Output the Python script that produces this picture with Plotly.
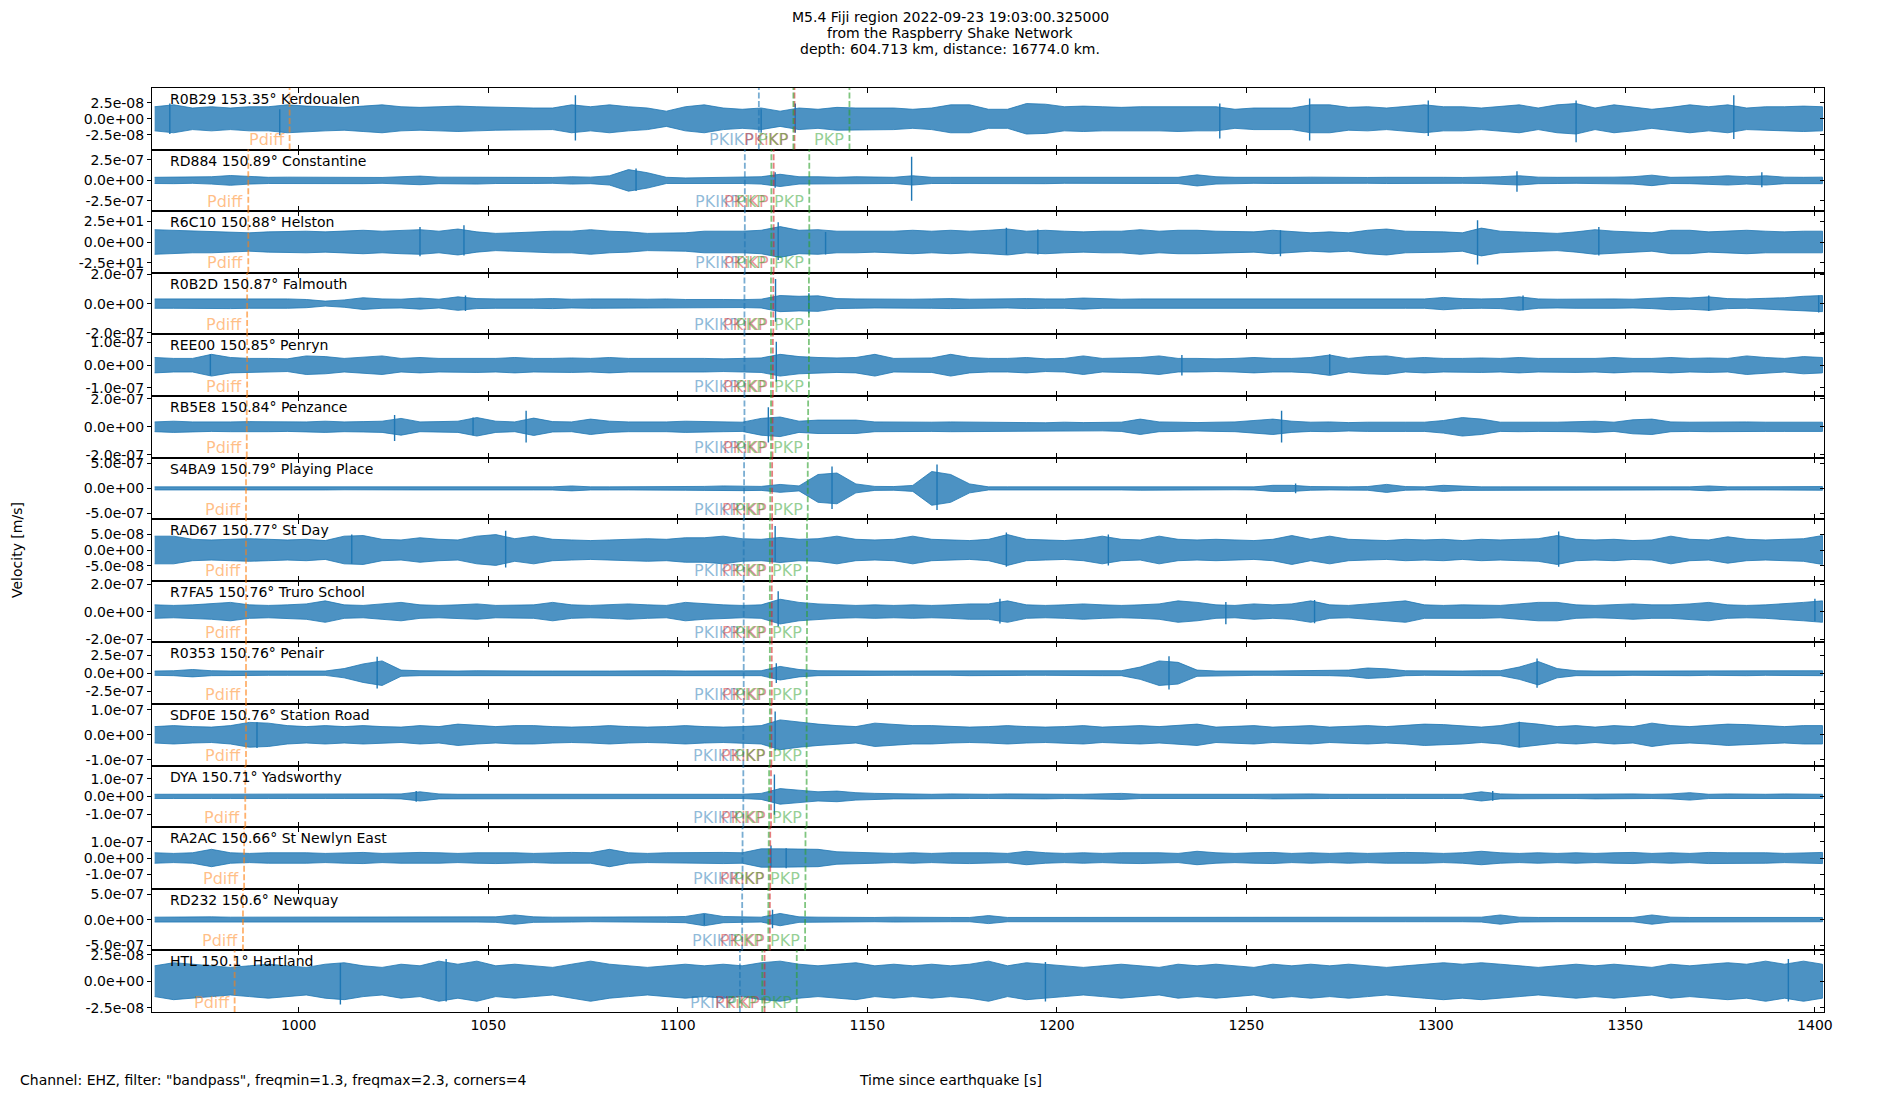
import numpy as np
import plotly.graph_objects as go
from plotly.subplots import make_subplots

# ---------------- data ----------------
TITLE_LINES = [
    "M5.4 Fiji region 2022-09-23 19:03:00.325000",
    "from the Raspberry Shake Network",
    "depth: 604.713 km, distance: 16774.0 km.",
]
FOOTNOTE = 'Channel: EHZ, filter: "bandpass", freqmin=1.3, freqmax=2.3, corners=4'
XLABEL = "Time since earthquake [s]"
YLABEL = "Velocity [m/s]"

STATIONS = [
    "R0B29 153.35° Kerdoualen", "RD884 150.89° Constantine", "R6C10 150.88° Helston",
    "R0B2D 150.87° Falmouth", "REE00 150.85° Penryn", "RB5E8 150.84° Penzance",
    "S4BA9 150.79° Playing Place", "RAD67 150.77° St Day", "R7FA5 150.76° Truro School",
    "R0353 150.76° Penair", "SDF0E 150.76° Station Road", "DYA 150.71° Yadsworthy",
    "RA2AC 150.66° St Newlyn East", "RD232 150.6° Newquay", "HTL 150.1° Hartland",
]

# amplitude unit of the envelope lists (nm/s, except R6C10 in raw units)
UNITS = [1e-9, 1e-9, 1.0, 1e-9, 1e-9, 1e-9, 1e-9, 1e-9, 1e-9, 1e-9, 1e-9, 1e-9, 1e-9, 1e-9, 1e-9]
# y-axis half range and tick step per panel (m/s)
Y_HALF = [4.85e-8, 3.77e-7, 36.8, 2.1e-7, 1.36e-7, 2.2e-7, 6.2e-7, 9.8e-8, 2.24e-7,
          4.26e-7, 1.24e-7, 1.74e-7, 1.88e-7, 6.05e-7, 2.9e-8]
Y_TICK = [2.5e-8, 2.5e-7, 25.0, 2e-7, 1e-7, 2e-7, 5e-7, 5e-8, 2e-7, 2.5e-7, 1e-7, 1e-7,
          1e-7, 5e-7, 2.5e-8]

# envelope sample times (s since earthquake)
T = np.arange(962, 1403, 5)

ENV_R0B29 = [19, 22, 17, 19, 17, 19, 19, 22, 20, 19,
             18, 20, 22, 19, 18, 19, 20, 19, 18, 17,
             17, 17, 22, 19, 22, 19, 17, 12, 19, 22,
             17, 15, 17, 12, 17, 15, 18, 17, 17, 17,
             15, 17, 22, 22, 15, 15, 24, 23, 19, 20,
             19, 18, 19, 19, 20, 19, 19, 15, 17, 17,
             17, 22, 22, 18, 19, 17, 19, 22, 19, 19,
             17, 19, 22, 17, 22, 24, 17, 22, 19, 15,
             18, 22, 19, 22, 17, 19, 19, 20, 19]
ENV_RD884 = [38, 40, 36, 45, 60, 45, 38, 40, 38, 36,
             38, 40, 36, 45, 53, 40, 38, 45, 38, 36,
             38, 36, 45, 40, 57, 132, 94, 38, 30, 34,
             38, 38, 45, 75, 45, 45, 38, 45, 38, 38,
             57, 38, 38, 38, 40, 38, 38, 40, 36, 38,
             38, 40, 36, 38, 38, 68, 45, 38, 36, 38,
             38, 40, 36, 38, 36, 38, 40, 38, 38, 36,
             38, 45, 57, 40, 38, 36, 38, 40, 45, 64,
             38, 40, 45, 57, 45, 57, 40, 38, 40]
ENV_R6C10 = [14.7, 14.0, 12.9, 12.9, 12.1, 11.0, 12.1, 12.9, 12.9, 12.1,
             12.9, 14.0, 12.9, 14.0, 14.7, 12.9, 15.5, 12.1, 10.3, 11.0,
             12.1, 12.9, 12.9, 14.7, 12.9, 12.1, 10.3, 10.3, 11.0, 12.9,
             12.9, 12.9, 14.0, 18.4, 14.0, 14.7, 12.9, 12.9, 12.1, 12.9,
             14.0, 12.9, 14.0, 12.9, 14.0, 15.5, 12.9, 14.0, 12.9, 12.1,
             12.9, 12.9, 14.7, 12.9, 14.0, 14.0, 12.9, 12.9, 12.1, 14.0,
             12.9, 11.0, 12.1, 11.0, 14.0, 15.5, 12.9, 12.9, 12.1, 11.0,
             16.6, 12.9, 12.1, 11.0, 10.3, 12.1, 14.7, 12.9, 12.1, 11.0,
             14.0, 14.0, 12.1, 12.9, 14.0, 12.9, 12.1, 12.9, 12.9]
ENV_R0B2D = [32, 32, 30, 32, 34, 32, 30, 32, 28, 17,
             25, 40, 32, 30, 38, 30, 46, 34, 32, 30,
             32, 34, 30, 32, 34, 32, 30, 32, 28, 30,
             28, 27, 30, 55, 50, 53, 34, 32, 30, 32,
             30, 32, 34, 30, 32, 30, 34, 32, 32, 38,
             32, 30, 32, 32, 30, 34, 30, 30, 32, 30,
             32, 30, 32, 30, 30, 32, 32, 32, 42, 34,
             32, 34, 46, 32, 30, 32, 34, 32, 30, 34,
             42, 38, 46, 34, 32, 36, 40, 50, 55]
ENV_REE00 = [34, 30, 30, 48, 34, 30, 30, 28, 41, 38,
             30, 34, 41, 30, 34, 30, 30, 32, 30, 34,
             30, 30, 32, 30, 34, 30, 30, 32, 30, 30,
             28, 30, 32, 48, 38, 34, 32, 34, 48, 30,
             30, 32, 48, 34, 30, 30, 34, 28, 30, 41,
             30, 32, 34, 41, 30, 30, 28, 30, 34, 30,
             30, 34, 45, 30, 38, 41, 30, 34, 30, 30,
             32, 30, 34, 30, 30, 32, 30, 34, 30, 30,
             34, 30, 32, 30, 41, 34, 30, 38, 34]
ENV_RB5E8 = [35, 40, 35, 33, 35, 37, 35, 33, 35, 40,
             35, 37, 40, 60, 35, 37, 40, 66, 40, 35,
             62, 37, 35, 55, 40, 35, 33, 35, 40, 37,
             35, 33, 60, 70, 40, 48, 48, 48, 35, 33,
             35, 33, 35, 35, 33, 35, 30, 29, 33, 30,
             29, 33, 55, 35, 33, 30, 33, 35, 45, 55,
             40, 33, 35, 30, 33, 35, 33, 33, 45, 66,
             55, 33, 35, 33, 33, 35, 40, 33, 50, 55,
             35, 33, 35, 33, 35, 33, 33, 35, 33]
ENV_S4BA9 = [31, 31, 28, 31, 31, 28, 31, 31, 28, 31,
             28, 31, 31, 28, 31, 31, 28, 31, 31, 28,
             31, 31, 50, 31, 31, 31, 28, 31, 37, 40,
             50, 45, 40, 80, 50, 280, 310, 90, 40, 37,
             60, 340, 280, 90, 31, 31, 31, 37, 31, 31,
             31, 31, 37, 31, 31, 31, 31, 28, 31, 62,
             62, 37, 31, 31, 37, 81, 37, 31, 62, 40,
             31, 31, 28, 31, 31, 31, 31, 28, 31, 31,
             31, 31, 50, 31, 31, 31, 28, 31, 37]
ENV_RAD67 = [44, 44, 34, 32, 34, 36, 34, 32, 34, 30,
             44, 46, 34, 32, 39, 34, 32, 44, 49, 36,
             44, 34, 32, 30, 32, 34, 36, 34, 39, 39,
             44, 36, 34, 40, 34, 36, 44, 34, 32, 34,
             44, 34, 32, 30, 34, 49, 34, 32, 30, 34,
             44, 34, 32, 44, 34, 32, 34, 32, 30, 34,
             46, 34, 44, 34, 32, 30, 34, 32, 34, 30,
             34, 32, 34, 36, 46, 34, 32, 34, 30, 32,
             44, 34, 32, 42, 34, 32, 34, 36, 46]
ENV_R7FA5 = [49, 45, 49, 56, 67, 49, 45, 49, 56, 78,
             49, 45, 56, 67, 49, 45, 49, 56, 45, 49,
             49, 67, 49, 45, 49, 56, 49, 45, 67, 56,
             49, 45, 49, 90, 67, 56, 49, 45, 49, 45,
             49, 45, 49, 56, 56, 78, 49, 45, 49, 56,
             49, 45, 49, 56, 78, 67, 49, 45, 56, 49,
             56, 78, 49, 45, 56, 67, 78, 49, 45, 49,
             49, 45, 56, 67, 67, 49, 45, 49, 56, 49,
             49, 56, 67, 49, 45, 49, 56, 67, 78]
ENV_R0353 = [30, 34, 51, 34, 30, 34, 30, 30, 34, 30,
             64, 128, 170, 43, 34, 30, 30, 34, 30, 34,
             30, 30, 34, 30, 30, 34, 30, 34, 30, 30,
             30, 34, 34, 94, 51, 34, 30, 34, 30, 30,
             30, 34, 30, 34, 30, 34, 30, 30, 34, 30,
             34, 34, 85, 170, 150, 43, 30, 34, 30, 30,
             34, 30, 34, 43, 72, 60, 34, 30, 30, 30,
             34, 34, 85, 162, 64, 34, 30, 34, 30, 30,
             30, 34, 30, 30, 34, 30, 34, 30, 34]
ENV_SDF0E = [33, 37, 33, 31, 37, 50, 47, 37, 33, 37,
             33, 37, 33, 31, 37, 33, 43, 37, 33, 37,
             37, 33, 31, 33, 37, 33, 31, 33, 37, 33,
             31, 33, 37, 60, 50, 43, 37, 33, 47, 43,
             37, 37, 33, 31, 33, 37, 33, 31, 33, 37,
             31, 33, 37, 33, 37, 43, 31, 33, 37, 31,
             33, 37, 31, 33, 37, 33, 37, 43, 41, 37,
             31, 37, 50, 43, 33, 37, 31, 37, 33, 47,
             37, 33, 37, 43, 41, 37, 33, 37, 37]
ENV_DYA = [12, 12, 14, 12, 12, 14, 12, 12, 14, 12,
           12, 14, 12, 14, 26, 14, 12, 12, 14, 12,
           12, 14, 12, 12, 14, 12, 12, 14, 12, 12,
           12, 12, 17, 44, 35, 26, 30, 21, 17, 14,
           14, 12, 14, 12, 12, 14, 12, 14, 12, 12,
           14, 17, 12, 14, 12, 12, 14, 12, 12, 14,
           12, 14, 12, 12, 14, 12, 12, 14, 12, 12,
           26, 14, 12, 14, 12, 12, 14, 12, 14, 12,
           14, 21, 12, 14, 12, 12, 14, 12, 12]
ENV_RA2AC = [32, 28, 32, 53, 32, 28, 32, 34, 32, 28,
             32, 34, 28, 32, 34, 32, 28, 32, 34, 32,
             28, 32, 34, 32, 53, 32, 28, 32, 34, 32,
             34, 32, 56, 56, 56, 53, 38, 34, 32, 28,
             32, 28, 32, 34, 32, 28, 41, 32, 28, 32,
             28, 32, 34, 32, 28, 41, 32, 28, 32, 34,
             28, 32, 28, 32, 28, 32, 34, 32, 28, 32,
             41, 32, 28, 32, 28, 32, 28, 32, 34, 28,
             32, 28, 34, 32, 34, 32, 28, 32, 34]
ENV_RD232 = [48, 54, 48, 54, 48, 48, 42, 48, 42, 48,
             48, 42, 48, 42, 48, 54, 48, 48, 54, 91,
             54, 48, 48, 42, 48, 54, 48, 54, 61, 121,
             61, 54, 48, 121, 54, 48, 42, 48, 42, 48,
             42, 48, 42, 42, 79, 42, 42, 42, 42, 42,
             42, 42, 48, 42, 42, 48, 42, 42, 42, 42,
             48, 42, 42, 42, 54, 42, 42, 42, 48, 42,
             48, 91, 48, 42, 42, 42, 48, 42, 42, 91,
             48, 42, 42, 42, 42, 48, 42, 42, 42]
ENV_HTL = [14.5, 17.4, 16, 14.5, 13, 14.5, 16, 14.5, 13, 16,
           17.4, 14.5, 13, 16, 14.5, 18.9, 16, 18.9, 14.5, 16,
           14.5, 13, 16, 18.9, 16, 14.5, 13, 14.5, 16, 14.5,
           16, 14.5, 17.4, 18.9, 16, 14.5, 16, 17.4, 14.5, 16,
           14.5, 16, 14.5, 16, 18.9, 14.5, 17.4, 16, 14.5, 13,
           14.5, 16, 14.5, 13, 16, 14.5, 16, 14.5, 13, 16,
           14.5, 16, 14.5, 16, 14.5, 13, 14.5, 16, 17.4, 16,
           17.4, 16, 14.5, 13, 14.5, 16, 14.5, 16, 14.5, 13,
           16, 14.5, 16, 17.4, 16, 18.9, 16, 18.9, 16]

ENVELOPES = [ENV_R0B29, ENV_RD884, ENV_R6C10, ENV_R0B2D, ENV_REE00, ENV_RB5E8, ENV_S4BA9,
             ENV_RAD67, ENV_R7FA5, ENV_R0353, ENV_SDF0E, ENV_DYA, ENV_RA2AC, ENV_RD232, ENV_HTL]

# individual large swings: (time, positive peak, negative peak), same units as envelopes
SPIKES = [
    [(966, 24, -24), (995, 15, -26), (1073, 37, -34), (1122, 15, -22), (1131, 24, -22),
     (1243, 24, -31), (1266.7, 32, -34), (1298, 29, -27), (1337, 29, -37), (1378.6, 37, -32)],
    [(1089, 145, -130), (1125.7, 100, -90), (1161.7, 290, -250), (1321.4, 113, -140), (1386, 100, -85)],
    [(1032, 18, -17), (1043.6, 20, -16), (1126.5, 23.5, -21.5), (1139, 12, -15), (1186.7, 17, -15),
     (1195, 15, -15), (1259, 14, -17), (1311, 26, -27), (1343, 18, -16)],
    [(1044, 55, -50), (1125.8, 168, -124), (1134.6, 70, -65), (1323, 55, -45), (1372, 55, -50), (1401, 55, -60)],
    [(976.7, 48, -45), (1126, 103, -73), (1233, 45, -45), (1272, 48, -41)],
    [(1025.3, 84, -101), (1046, 66, -60), (1060, 114, -112), (1123.9, 139, -112), (1259.3, 114, -112)],
    [(1140.7, 440, -415), (1168.4, 480, -435), (1263, 100, -100)],
    [(1014, 49, -44), (1054.6, 61, -56), (1125.7, 76, -37), (1186.7, 56, -53), (1213.6, 49, -49), (1332.4, 59, -53)],
    [(1126.5, 148, -108), (1185, 94, -87), (1244.6, 70, -92), (1268, 85, -85), (1400, 94, -70)],
    [(1020.7, 226, -213), (1126, 136, -136), (1229.6, 234, -226), (1326.7, 205, -200)],
    [(989, 51, -53), (1125.7, 94, -63), (1322, 53, -50)],
    [(1031, 30, -30), (1125.5, 124, -104), (1315, 30, -25)],
    [(1124.6, 77, -56), (1128.6, 60, -62)],
    [(1107, 110, -110), (1125, 194, -170)],
    [(1011, 17, -22), (1038.9, 21, -19), (1197, 18, -19), (1393, 21, -19)],
]

# predicted arrival times (s) per station
PDIFF = [997.6, 986.7, 986.7, 986.4, 986.4, 986.3, 986.1, 986.1, 986.1, 986.1, 986.1, 985.9, 985.6, 985.3, 983.1]
PKIKP = [1121.4, 1117.7, 1117.7, 1117.6, 1117.6, 1117.6, 1117.5, 1117.4, 1117.4, 1117.4, 1117.3, 1117.3, 1117.1, 1117.0, 1116.4]
PKIKP_I = [1130.8, 1125.3, 1125.3, 1125.2, 1125.1, 1125.0, 1124.9, 1124.9, 1124.8, 1124.8, 1124.7, 1124.6, 1124.4, 1124.3, 1122.9]
PKP_1 = [1130.5, 1124.7, 1124.7, 1124.6, 1124.6, 1124.6, 1124.4, 1124.3, 1124.3, 1124.3, 1124.3, 1124.1, 1124.0, 1123.9, 1122.3]
PKP_2 = [1145.3, 1134.7, 1134.7, 1134.6, 1134.6, 1134.4, 1134.3, 1134.1, 1134.1, 1134.0, 1134.0, 1134.0, 1133.7, 1133.6, 1131.4]

X_RANGE = [961.3, 1402.4]
X_TICKS = [1000, 1050, 1100, 1150, 1200, 1250, 1300, 1350, 1400]

# ---------------- styling ----------------
FONT = "DejaVu Sans"
BLUE = "#1f77b4"
PHASES = [  # (name, times, rgb)
    ("Pdiff", PDIFF, (255, 127, 14)),
    ("PKIKP", PKIKP, (31, 119, 180)),
    ("PKiKP", PKIKP_I, (214, 39, 40)),
    ("PKP", PKP_1, (44, 160, 44)),
    ("PKP", PKP_2, (44, 160, 44)),
]

W, H = 1900, 1100
ML, MR, MT, MB = 152, 76, 88, 88
PW, PH = W - ML - MR, H - MT - MB
N = len(STATIONS)

fig = make_subplots(rows=N, cols=1, shared_xaxes=True, vertical_spacing=0)

shapes, annotations = [], []
for i in range(N):
    r = i + 1
    sfx = "" if r == 1 else str(r)
    unit = UNITS[i]
    env = np.asarray(ENVELOPES[i], dtype=float) * unit
    xp = np.concatenate([T, T[::-1]])
    yp = np.concatenate([env, -env[::-1]])
    fig.add_trace(go.Scatter(x=xp, y=yp, mode="lines", fill="toself",
                             fillcolor="rgba(31,119,180,0.8)",
                             line=dict(color=BLUE, width=0.8),
                             hoverinfo="skip", showlegend=False), row=r, col=1)
    sx, sy = [], []
    for t, up, dn in SPIKES[i]:
        sx += [t, t, None]
        sy += [up * unit, dn * unit, None]
    fig.add_trace(go.Scatter(x=sx, y=sy, mode="lines", line=dict(color=BLUE, width=1.4),
                             hoverinfo="skip", showlegend=False), row=r, col=1)

    h = Y_HALF[i]
    tv = [Y_TICK[i], 0.0, -Y_TICK[i]]
    tt = [f"{v:.1e}" for v in tv]
    fig.update_yaxes(row=r, col=1, range=[-h, h], tickvals=tv, ticktext=tt,
                     ticks="outside", ticklen=4, tickwidth=1, tickcolor="black",
                     showline=True, linecolor="black", linewidth=1, mirror=True,
                     showgrid=False, zeroline=False,
                     tickfont=dict(family=FONT, size=14, color="black"))
    fig.update_xaxes(row=r, col=1, range=X_RANGE, tickvals=X_TICKS,
                     ticktext=[str(v) for v in X_TICKS],
                     ticks="inside", ticklen=5, tickwidth=1, tickcolor="black",
                     showline=True, linecolor="black", linewidth=1, mirror="ticks",
                     showgrid=False, zeroline=False,
                     tickfont=dict(family=FONT, size=14, color="black"))

    # right-hand inward ticks via an overlaying axis
    oy = N + r
    fig.update_layout(**{f"yaxis{oy}": dict(overlaying=f"y{sfx}", anchor=f"x{sfx}", side="right",
                                           range=[-h, h], tickvals=tv, ticks="inside", ticklen=4,
                                           tickwidth=1, tickcolor="black", showticklabels=False,
                                           showgrid=False, zeroline=False, showline=False)})
    fig.add_trace(go.Scatter(x=[None], y=[None], xaxis=f"x{sfx}", yaxis=f"y{oy}",
                             showlegend=False, hoverinfo="skip"))

    annotations.append(dict(text=STATIONS[i], xref=f"x{sfx} domain", yref=f"y{sfx} domain",
                            x=0.0096, y=1, xanchor="left", yanchor="top", yshift=-1,
                            showarrow=False, font=dict(family=FONT, size=14, color="black")))
    for name, times, (cr, cg, cb) in PHASES:
        t = times[i]
        shapes.append(dict(type="line", xref=f"x{sfx}", yref=f"y{sfx} domain",
                           x0=t, x1=t, y0=0, y1=1,
                           line=dict(color=f"rgba({cr},{cg},{cb},0.6)", width=1.8, dash="6px,2.5px")))
        annotations.append(dict(text=name, xref=f"x{sfx}", yref=f"y{sfx} domain",
                                x=t, y=0, xanchor="right", yanchor="bottom", xshift=-3, yshift=-1.5,
                                showarrow=False,
                                font=dict(family=FONT, size=16, color=f"rgba({cr},{cg},{cb},0.5)")))

# figure texts (positions in paper coords of the plot area)
for k, line in enumerate(TITLE_LINES):
    ypx = 17 + 16 * k
    annotations.append(dict(text=line, xref="paper", yref="paper",
                            x=(W / 2 - ML) / PW, y=(MT + PH - ypx) / PH,
                            xanchor="center", yanchor="middle", showarrow=False,
                            font=dict(family=FONT, size=14, color="black")))
annotations.append(dict(text=FOOTNOTE, xref="paper", yref="paper",
                        x=(18 - ML) / PW, y=(MT + PH - 1080) / PH, xanchor="left", yanchor="middle",
                        showarrow=False, font=dict(family=FONT, size=14, color="black")))
annotations.append(dict(text=XLABEL, xref="paper", yref="paper",
                        x=(W / 2 - ML) / PW, y=(MT + PH - 1080) / PH, xanchor="center", yanchor="middle",
                        showarrow=False, font=dict(family=FONT, size=14, color="black")))
annotations.append(dict(text=YLABEL, xref="paper", yref="paper",
                        x=(17 - ML) / PW, y=0.5, xanchor="center", yanchor="middle", textangle=-90,
                        showarrow=False, font=dict(family=FONT, size=14, color="black")))

fig.update_layout(width=W, height=H, margin=dict(l=ML, r=MR, t=MT, b=MB),
                  plot_bgcolor="white", paper_bgcolor="white",
                  shapes=shapes, annotations=annotations, showlegend=False,
                  font=dict(family=FONT, size=14, color="black"))

# remove the browser's default 8px page margin so the figure sits at the window origin
fig.write_html("out.html", config={"displayModeBar": False},
               post_script="document.body.style.margin='0px';")
